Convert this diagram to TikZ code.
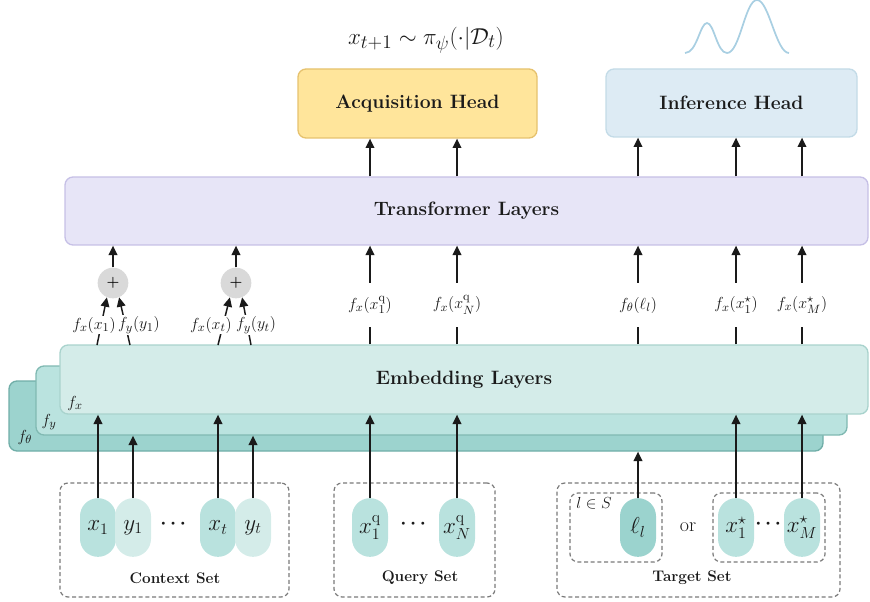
\documentclass[tikz,border=0pt]{standalone}
\usepackage{amsmath,amssymb,bm}
\usetikzlibrary{arrows.meta,calc}
\definecolor{trfill}{HTML}{E7E5F7}
\definecolor{trdraw}{HTML}{C6C0E6}
\definecolor{acqfill}{HTML}{FFE59B}
\definecolor{acqdraw}{HTML}{E6C26E}
\definecolor{inffill}{HTML}{DDEBF4}
\definecolor{infdraw}{HTML}{C3DBE7}
\definecolor{embA}{HTML}{D4ECE9}
\definecolor{embAd}{HTML}{A9D3CD}
\definecolor{embB}{HTML}{BAE3DF}
\definecolor{embBd}{HTML}{80B9B2}
\definecolor{embC}{HTML}{9CD3CE}
\definecolor{embCd}{HTML}{70AEA8}
\definecolor{pillx}{HTML}{B9E2DE}
\definecolor{pilly}{HTML}{D4ECE9}
\definecolor{pilll}{HTML}{9BD3CE}
\definecolor{plusg}{HTML}{D9D9D9}
\definecolor{curve}{HTML}{A9CFE2}
\definecolor{dashg}{HTML}{7A7A7A}
\definecolor{ink}{HTML}{1A1A1A}
\begin{document}
\begin{tikzpicture}[x=0.75pt,y=-0.75pt,
  arr/.style={-{Triangle[length=7pt,width=6.5pt]}, line width=1.1pt, draw=ink},
  plain/.style={line width=1.1pt, draw=ink},
  bigbox/.style={rounded corners=6pt, line width=1pt, inner sep=0pt, text=ink},
  head/.style={font=\fontsize{14.5}{16}\selectfont\bfseries},
  pill/.style={rounded corners=13.5pt, minimum width=27pt, minimum height=44pt, inner sep=0pt, font=\fontsize{18}{20}\selectfont, text=ink},
  lab/.style={font=\fontsize{12.5}{14}\selectfont, inner sep=1pt, text=ink},
  dbox/.style={draw=dashg, dash pattern=on 3pt off 2pt, rounded corners=6pt, line width=0.9pt, inner sep=0pt},
  settitle/.style={font=\fontsize{11.5}{13}\selectfont\bfseries, text=ink},
  dots/.style={font=\fontsize{14}{16}\selectfont, text=ink},
  pluscirc/.style={circle, fill=plusg, minimum size=23pt, inner sep=0pt, font=\fontsize{11}{12}\selectfont\bfseries, text=black}
]
\useasboundingbox (0,0) rectangle (870,602);

% formula and curve
\node[font=\fontsize{19}{21}\selectfont, text=ink] (formula) at (426,40) {$x_{t+1}\sim\pi_\psi(\cdot|\mathcal{D}_t)$};
\draw[curve, line width=1.3pt] (685,53) .. controls (697,53) and (700,23) .. (707,23)
  .. controls (714,23) and (717,53) .. (727,53)
  .. controls (740,53) and (745,0) .. (757,0)
  .. controls (769,0) and (776,53) .. (789,53);

% heads
\node[bigbox, head, draw=acqdraw, fill=acqfill, minimum width=179.25pt, minimum height=51.75pt] (acq) at (417.5,103.5) {Acquisition Head};
\node[bigbox, head, draw=infdraw, fill=inffill, minimum width=188.25pt, minimum height=51pt] (inf) at (731.5,103) {Inference Head};

% transformer
\node[bigbox, head, draw=trdraw, fill=trfill, minimum width=602.25pt, minimum height=51pt] (tr) at (466.5,211) {Transformer Layers};

% embedding layers
\node[bigbox, draw=embCd, fill=embC, minimum width=610.5pt, minimum height=52.5pt] (embC) at (416,416) {};
\node[bigbox, draw=embBd, fill=embB, minimum width=608.25pt, minimum height=51.75pt] (embB) at (441.5,400.5) {};
\node[bigbox, head, draw=embAd, fill=embA, minimum width=606pt, minimum height=51.75pt] (embA) at (464,379.5) {Embedding Layers};
\node[lab] (ftheta) at (25,437) {$f_\theta$};
\node[lab] (fy) at (49,422) {$f_y$};
\node[lab] (fx) at (75,403) {$f_x$};

% dashed set boxes
\node[dbox, minimum width=171.75pt, minimum height=85.5pt] (cset) at (174.5,540) {};
\node[dbox, minimum width=120.75pt, minimum height=85.5pt] (qset) at (414.5,540) {};
\node[dbox, minimum width=212.25pt, minimum height=85.5pt] (tset) at (698.5,540) {};
\node[dbox, minimum width=69pt, minimum height=51.75pt] (tin1) at (616,527.5) {};
\node[dbox, minimum width=84pt, minimum height=51.75pt] (tin2) at (769,527.5) {};
\node[settitle] (ctitle) at (175,578) {Context Set};
\node[settitle] (qtitle) at (420,578) {Query Set};
\node[settitle] (ttitle) at (692,578) {Target Set};
\node[lab, font=\fontsize{13}{14}\selectfont] (linS) at (594,503) {$l\in S$};

% pills
\node[pill, fill=pillx] (px1) at (98,527.5) {$x_1$};
\node[pill, fill=pilly] (py1) at (133,527.5) {$y_1$};
\node[dots] (cdots) at (175,524) {$\bm{\cdots}$};
\node[pill, fill=pillx] (pxt) at (218,527.5) {$x_t$};
\node[pill, fill=pilly] (pyt) at (253,527.5) {$y_t$};
\node[pill, fill=pillx] (pq1) at (370,527.5) {$x^{\mathrm{q}}_1$};
\node[dots] (qdots) at (415,524) {$\bm{\cdots}$};
\node[pill, fill=pillx] (pqN) at (457,527.5) {$x^{\mathrm{q}}_N$};
\node[pill, fill=pilll] (pl) at (638,527.5) {$\ell_l$};
\node[font=\fontsize{15}{16}\selectfont, text=ink] (orw) at (688,527) {or};
\node[pill, fill=pillx] (ps1) at (736,527.5) {$x^\star_1$};
\node[dots] (tdots) at (770,524) {$\bm{\cdots}$};
\node[pill, fill=pillx] (psM) at (802,527.5) {$x^\star_M$};

% inputs into embedding layers
\draw[arr] (px1.north) -- (px1.north |- embA.south);
\draw[arr] (py1.north) -- (py1.north |- embB.south);
\draw[arr] (pxt.north) -- (pxt.north |- embA.south);
\draw[arr] (pyt.north) -- (pyt.north |- embB.south);
\draw[arr] (pq1.north) -- (pq1.north |- embA.south);
\draw[arr] (pqN.north) -- (pqN.north |- embA.south);
\draw[arr] (pl.north) -- (pl.north |- embC.south);
\draw[arr] (ps1.north) -- (ps1.north |- embA.south);
\draw[arr] (psM.north) -- (psM.north |- embA.south);

% context outputs
\node[pluscirc] (c1) at (113,283) {+};
\node[pluscirc] (c2) at (236,283) {+};
\coordinate (ox1) at (97,345);
\coordinate (oy1) at (130,345);
\coordinate (oxt) at (218,345);
\coordinate (oyt) at (251,345);
\draw[arr] (ox1) -- (c1.-113);
\draw[arr] (oy1) -- (c1.-67);
\draw[arr] (oxt) -- (c2.-113);
\draw[arr] (oyt) -- (c2.-67);
\node[lab, fill=white] (lx1) at (94,325) {$f_x(x_1)$};
\node[lab, fill=white] (ly1) at (139,325) {$f_y(y_1)$};
\node[lab, fill=white] (lxt) at (211,325) {$f_x(x_t)$};
\node[lab, fill=white] (lyt) at (256,325) {$f_y(y_t)$};
\draw[arr] (c1.north) -- (c1.north |- tr.south);
\draw[arr] (c2.north) -- (c2.north |- tr.south);

% query / target outputs
\node[lab, minimum height=33pt] (lq1) at (370,305) {$f_x(x^{\mathrm{q}}_1)$};
\node[lab, minimum height=33pt] (lqN) at (457,305) {$f_x(x^{\mathrm{q}}_N)$};
\node[lab, minimum height=33pt] (lt0) at (638,305) {$f_\theta(\ell_l)$};
\node[lab, minimum height=33pt] (lt1) at (736,305) {$f_x(x^\star_1)$};
\node[lab, minimum height=33pt] (lt2) at (802,305) {$f_x(x^\star_M)$};
\foreach \n in {lq1,lqN,lt0,lt1,lt2}{
  \draw[plain] (\n.south |- embA.north) -- (\n.south);
  \draw[arr] (\n.north) -- (\n.north |- tr.south);
}

% to heads
\draw[arr] (lq1 |- tr.north) -- (lq1 |- acq.south);
\draw[arr] (lqN |- tr.north) -- (lqN |- acq.south);
\draw[arr] (lt0 |- tr.north) -- (lt0 |- inf.south);
\draw[arr] (lt1 |- tr.north) -- (lt1 |- inf.south);
\draw[arr] (lt2 |- tr.north) -- (lt2 |- inf.south);
\end{tikzpicture}
\end{document}
